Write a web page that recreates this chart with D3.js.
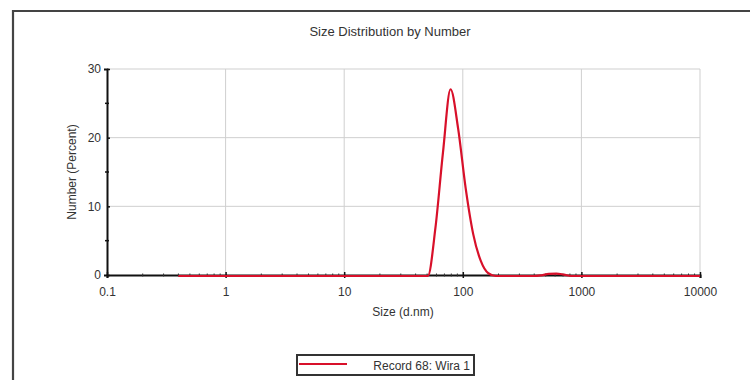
<!DOCTYPE html>
<html>
<head>
<meta charset="utf-8">
<script src="https://cdn.jsdelivr.net/npm/d3@7/dist/d3.min.js"></script>
<style>
  body { margin: 0; background: #fff; }
  text { font-family: "Liberation Sans", Arial, sans-serif; fill: #333; }
</style>
</head>
<body>
<div class="canvas"></div>
<script>
// data
const sizes = [0.4, 1, 10, 40, 50.75, 58.77, 68.06, 78.82, 91.28, 105.7, 122.4, 141.8, 164.2, 190.1, 300, 400, 458.7, 531.2, 615.1, 712.4, 825, 1000, 10000];
const numberPct = [0, 0, 0, 0, 0, 7, 18, 27.2, 21.5, 12.8, 6.1, 2.2, 0.4, 0, 0, 0, 0.1, 0.3, 0.35, 0.2, 0, 0, 0];
const xTicks = [0.1, 1, 10, 100, 1000, 10000];
const yTicks = [0, 10, 20, 30];
const yMinor = [5, 15, 25];
const seriesName = 'Record 68: Wira 1';

const dims = { width: 750, height: 380 };
const plot = { left: 107, right: 700, top: 69, bottom: 275 };

const svg = d3.select('.canvas')
    .append('svg')
    .attr('width', dims.width)
    .attr('height', dims.height);

// outer frame (top + left edges visible)
svg.append('path')
    .attr('d', `M13,${dims.height} L13,11 L${dims.width},11`)
    .attr('fill', 'none')
    .attr('stroke', '#444')
    .attr('stroke-width', 2.2);

const x = d3.scaleLog().domain([0.1, 10000]).range([plot.left, plot.right]);
const y = d3.scaleLinear().domain([0, 30]).range([plot.bottom, plot.top]);

// title
svg.append('text')
    .attr('x', 390).attr('y', 36)
    .attr('text-anchor', 'middle')
    .attr('font-size', 13)
    .text('Size Distribution by Number');

// grid
const grid = svg.append('g');
grid.selectAll('line.v')
    .data(xTicks.slice(1))
    .enter().append('line')
    .attr('x1', d => x(d)).attr('x2', d => x(d))
    .attr('y1', plot.top).attr('y2', plot.bottom)
    .attr('stroke', '#cfcfcf').attr('stroke-width', 1);
grid.selectAll('line.h')
    .data(yTicks.slice(1))
    .enter().append('line')
    .attr('x1', plot.left).attr('x2', plot.right)
    .attr('y1', d => y(d)).attr('y2', d => y(d))
    .attr('stroke', '#cfcfcf').attr('stroke-width', 1);

// axes
const xMinor = [];
for (let p = -1; p < 4; p++) {
    for (let m = 2; m < 10; m++) xMinor.push(m * Math.pow(10, p));
}

const xAxis = svg.append('g')
    .attr('transform', `translate(0, ${plot.bottom})`)
    .call(d3.axisBottom(x).tickValues(xTicks).tickFormat(d => String(d)).tickSize(3).tickPadding(9));
xAxis.select('.domain').attr('stroke', '#111').attr('stroke-width', 2);
xAxis.selectAll('.tick line').attr('stroke', '#111').attr('y1', -3).attr('stroke-width', 1.5);
xAxis.selectAll('text').attr('font-size', 12).attr('fill', '#333');

svg.append('g').selectAll('line')
    .data(xMinor)
    .enter().append('line')
    .attr('x1', d => x(d)).attr('x2', d => x(d))
    .attr('y1', plot.bottom - 1.5).attr('y2', plot.bottom + 1.5)
    .attr('stroke', '#333').attr('stroke-width', 1);

const yAxis = svg.append('g')
    .attr('transform', `translate(${plot.left}, 0)`)
    .call(d3.axisLeft(y).tickValues(yTicks).tickSize(3).tickPadding(3));
yAxis.select('.domain').attr('stroke', '#111').attr('stroke-width', 2);
yAxis.selectAll('.tick line').attr('stroke', '#111').attr('x2', 3).attr('stroke-width', 1.5);
yAxis.selectAll('text').attr('font-size', 12).attr('fill', '#333');

svg.append('g').selectAll('line')
    .data(yMinor)
    .enter().append('line')
    .attr('x1', plot.left - 2).attr('x2', plot.left + 2)
    .attr('y1', d => y(d)).attr('y2', d => y(d))
    .attr('stroke', '#111').attr('stroke-width', 1.5);

// axis titles
svg.append('text')
    .attr('x', 403).attr('y', 316)
    .attr('text-anchor', 'middle')
    .attr('font-size', 12)
    .text('Size (d.nm)');

svg.append('text')
    .attr('transform', `translate(76, 172) rotate(-90)`)
    .attr('text-anchor', 'middle')
    .attr('font-size', 12)
    .text('Number (Percent)');

// series line
const line = d3.line()
    .x(d => x(d[0]))
    .y(d => y(d[1]) + 1)
    .curve(d3.curveMonotoneX);

svg.append('path')
    .datum(sizes.map((s, i) => [s, numberPct[i]]))
    .attr('d', line)
    .attr('fill', 'none')
    .attr('stroke', '#d8102a')
    .attr('stroke-width', 2.2);

// legend
const legend = svg.append('g').attr('transform', 'translate(297, 355)');
legend.append('rect')
    .attr('width', 177).attr('height', 20)
    .attr('fill', '#fff')
    .attr('stroke', '#333').attr('stroke-width', 2);
legend.append('line')
    .attr('x1', 2).attr('x2', 50)
    .attr('y1', 9).attr('y2', 9)
    .attr('stroke', '#d8102a').attr('stroke-width', 2);
legend.append('text')
    .attr('x', 173).attr('y', 14.5)
    .attr('text-anchor', 'end')
    .attr('font-size', 12)
    .text(seriesName);
</script>
</body>
</html>
